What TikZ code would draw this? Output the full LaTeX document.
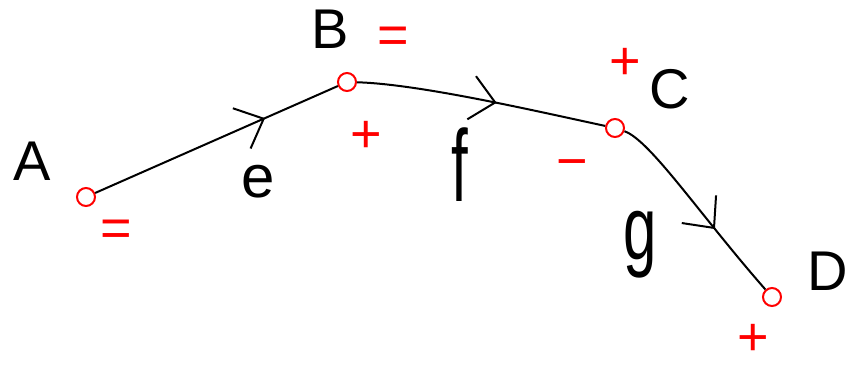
\documentclass[tikz,border=0pt]{standalone}
\usepackage{fontspec}
\usepackage{graphicx}
\setmainfont{Liberation Sans}
\usetikzlibrary{arrows.meta,decorations.markings}
\tikzset{
  pt/.style={circle,draw=red,line width=2pt,minimum size=18pt,inner sep=0pt},
  lbl/.style={inner sep=0pt,font=\fontsize{56}{56}\selectfont},
  small/.style={inner sep=0pt,font=\fontsize{60}{60}\selectfont},
  sgn/.style={inner sep=0pt,text=red,font=\fontsize{54}{54}\selectfont},
  wire/.style={line width=2pt,black},
  flow/.style={postaction={decorate},decoration={markings,
    mark=at position #1 with {\arrow{Straight Barb[length=24pt,width=44pt,line width=2pt]}}}}
}
\begin{document}
\begin{tikzpicture}[x=1pt,y=-1pt]
\useasboundingbox (0,0) rectangle (851,368);
% points
\node[pt] (A) at (86,197) {};
\node[pt] (B) at (347,82) {};
\node[pt] (C) at (615,128) {};
\node[pt] (D) at (772,297) {};
% connectors
\draw[wire,flow=0.7] (A) -- (B);
\draw[wire,flow=0.56] (B) .. controls (420,84) and (540,112) .. (C);
\draw[wire,flow=0.63] (C) .. controls (650,140) and (700,215) .. (D);
% point labels
\node[lbl] (la) at (32,161) {A};
\node[lbl] (lb) at (330,29) {B};
\node[lbl] (lc) at (670,89) {C};
\node[lbl] (ld) at (828,271) {D};
% edge labels
\node[small] (le) at (258,182) {e};
\node[small] (lf) at (460,165) {\scalebox{1}[1.7]{f}};
\node[small] (lg) at (640,245) {\scalebox{1}[1.5]{g}};
% signs
\node[sgn] (sa) at (116,233) {=};
\node[sgn] (sb) at (393,40) {=};
\node[sgn] (sb2) at (366,137) {+};
\node[sgn] (sc) at (625,64) {+};
\node[sgn] (sc2) at (572,170) {−};
\node[sgn] (sd) at (753,340) {+};
\end{tikzpicture}
\end{document}
